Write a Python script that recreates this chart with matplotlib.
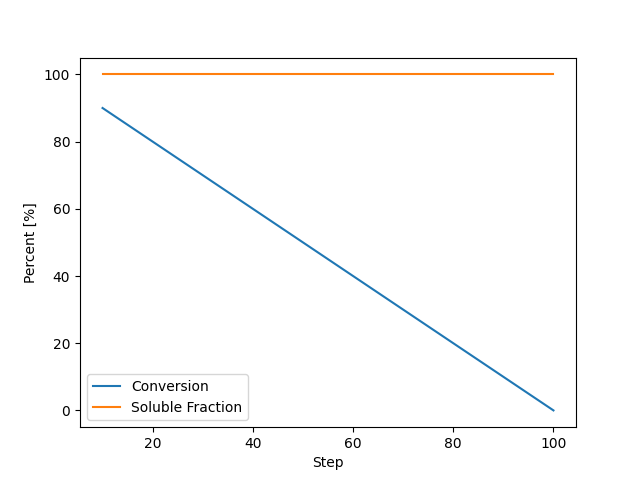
import matplotlib
matplotlib.use('Agg')
import matplotlib.pyplot as plt

steps = [10, 20, 30, 40, 50, 60, 70, 80, 90, 100]
conversion = [90, 80, 70, 60, 50, 40, 30, 20, 10, 0]
soluble_fraction = [100, 100, 100, 100, 100, 100, 100, 100, 100, 100]

fig, ax = plt.subplots(figsize=(6.4, 4.8), dpi=100)
ax.plot(steps, conversion, label='Conversion')
ax.plot(steps, soluble_fraction, label='Soluble Fraction')
ax.set_xlabel('Step')
ax.set_ylabel('Percent [%]')
ax.legend(loc='lower left')
fig.savefig('out.png')
